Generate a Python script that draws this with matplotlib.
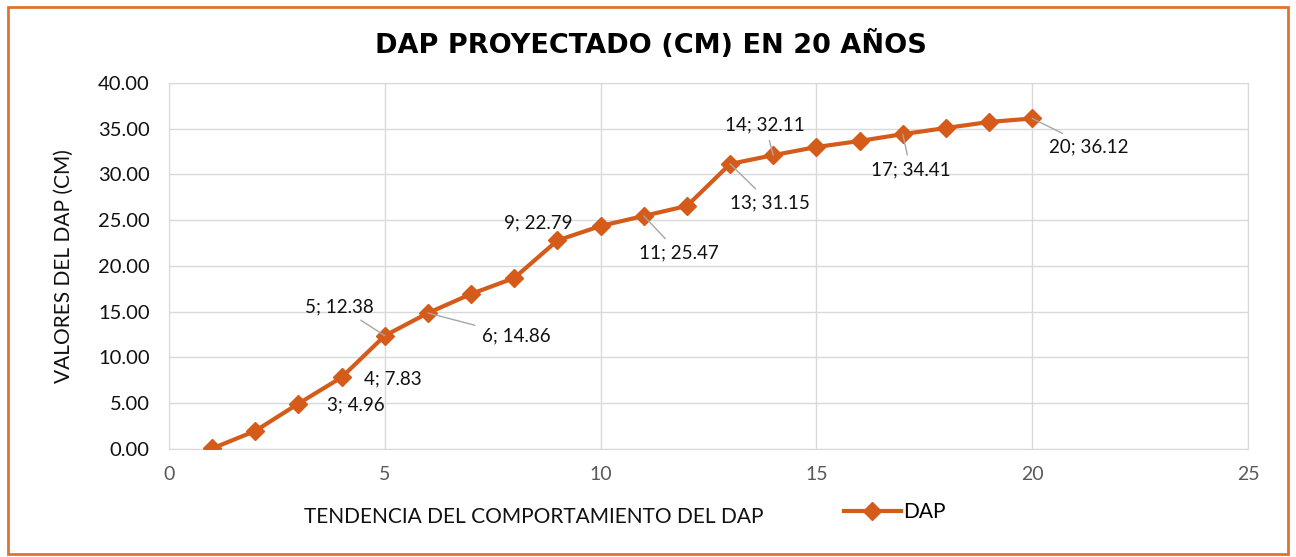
import matplotlib.pyplot as plt
from matplotlib.patches import Rectangle
from matplotlib.ticker import FormatStrFormatter

plt.rcParams['font.family'] = ['Lato', 'DejaVu Sans']

# datos: años y DAP proyectado
anios = list(range(1, 21))
dap = [0.05, 1.97, 4.96, 7.83, 12.38, 14.86, 16.94, 18.69, 22.79, 24.37,
       25.47, 26.56, 31.15, 32.11, 33.00, 33.66, 34.41, 35.08, 35.74, 36.12]

# etiquetas de datos mostradas (año, desplazamiento en pixeles, linea guia)
etiquetas = {3: (57, -1, False), 4: (51, -2, False), 5: (-45, 29, True),
             6: (88, -23, True), 9: (-19, 18, False), 11: (35, -37, True),
             13: (40, -39, True), 14: (-8, 30, True), 17: (8, -36, True),
             20: (57, -28, True)}

naranja = '#D55B1A'
gris = '#D9D9D9'

fig = plt.figure(figsize=(12.96, 5.57), dpi=100)
ax = fig.add_axes([0.1304, 0.194, 0.8326, 0.657])

ax.plot(anios, dap, color=naranja, linewidth=3, marker='D', markersize=9,
        label='DAP', zorder=3)

for x, (dx, dy, guia) in etiquetas.items():
    y = dap[x - 1]
    props = None
    if guia:
        props = dict(arrowstyle='-', color='#A6A6A6', lw=1, shrinkA=3, shrinkB=0)
    ax.annotate(f'{x}; {y:.2f}', xy=(x, y), xytext=(dx, dy),
                textcoords='offset pixels', ha='center', va='center',
                fontsize=13.5, color='#111111', arrowprops=props, zorder=4)

ax.set_xlim(0, 25)
ax.set_ylim(0, 40)
ax.set_xticks(range(0, 26, 5))
ax.set_yticks(range(0, 41, 5))
ax.yaxis.set_major_formatter(FormatStrFormatter('%.2f'))
ax.grid(True, color=gris, linewidth=1)
ax.set_axisbelow(True)
for s in ax.spines.values():
    s.set_color(gris)
ax.tick_params(length=0)
ax.tick_params(axis='y', labelsize=14.5, colors='#111111', pad=14)
ax.tick_params(axis='x', labelsize=14, colors='#595959', pad=12)

ax.set_xlabel('TENDENCIA DEL COMPORTAMIENTO DEL DAP', fontsize=15,
              color='#111111')
ax.xaxis.set_label_coords(0.338, -0.16)
ax.set_ylabel('VALORES DEL DAP (CM)', fontsize=15, color='#111111')
ax.yaxis.set_label_coords(-0.088, 0.5)

fig.text(0.502, 0.92, 'DAP PROYECTADO (CM) EN 20 AÑOS', ha='center',
         va='center', fontsize=19.5, fontweight='bold', color='#000000',
         family='DejaVu Sans')

ax.legend(loc='center left', bbox_to_anchor=(0.637, 0.08),
          bbox_transform=fig.transFigure, frameon=False, fontsize=15,
          handlelength=2.7, handletextpad=0.1)

# borde naranja del grafico
fig.patches.append(Rectangle((0.006, 0.006), 0.988, 0.982, transform=fig.transFigure,
                             fill=False, edgecolor='#E0732F', linewidth=2))

plt.savefig('out.png', dpi=100)
